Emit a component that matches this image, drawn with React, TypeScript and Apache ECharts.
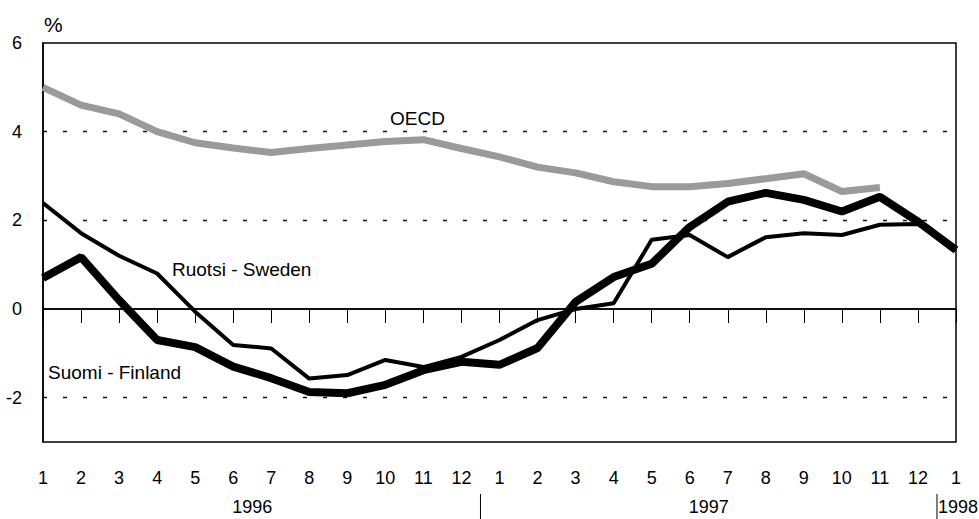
import React, { useEffect, useRef } from "react";
import * as echarts from "echarts";

const years = ["1996", "1997", "1998"];
const months1996 = ["1", "2", "3", "4", "5", "6", "7", "8", "9", "10", "11", "12"];
const months1997 = ["1", "2", "3", "4", "5", "6", "7", "8", "9", "10", "11", "12"];
const months1998 = ["1"];

const categories = [
  ...months1996.map((m) => `1996-${m}`),
  ...months1997.map((m) => `1997-${m}`),
  ...months1998.map((m) => `1998-${m}`),
];

const oecd = [5.0, 4.6, 4.4, 4.0, 3.75, 3.63, 3.53, 3.62, 3.7, 3.78, 3.82, 3.62,
  3.43, 3.2, 3.07, 2.87, 2.76, 2.76, 2.83, 2.94, 3.05, 2.65, 2.74, null, null];
const finland = [0.7, 1.17, 0.2, -0.7, -0.86, -1.3, -1.56, -1.87, -1.9, -1.71, -1.38, -1.19,
  -1.26, -0.88, 0.16, 0.72, 1.02, 1.85, 2.42, 2.62, 2.46, 2.2, 2.53, 1.97, 1.33];
const sweden = [2.39, 1.71, 1.2, 0.8, -0.06, -0.81, -0.89, -1.57, -1.49, -1.15, -1.31, -1.08,
  -0.7, -0.25, 0.0, 0.13, 1.56, 1.67, 1.17, 1.62, 1.71, 1.67, 1.9, 1.92, 1.33];

const dashedLevels = [4, 2, -2];
const FONT = "Liberation Sans, Arial, sans-serif";

export default function App() {
  const ref = useRef<HTMLDivElement>(null);
  useEffect(() => {
    const chart = echarts.init(ref.current!, null, { renderer: "svg" });
    const option: any = {
      animation: false,
      backgroundColor: "#fff",
      grid: {
        left: 43, right: 23, top: 43, bottom: 77,
        show: true, borderColor: "#000", borderWidth: 1.5, backgroundColor: "transparent",
      },
      xAxis: {
        type: "category",
        data: categories,
        boundaryGap: false,
        axisLine: { lineStyle: { color: "#000", width: 1.5 } },
        axisTick: { show: true, length: 14, inside: false, lineStyle: { color: "#000", width: 1 } },
        axisLabel: {
          color: "#000", fontSize: 18, fontFamily: FONT, margin: 27, interval: 0,
          formatter: (v: string) => v.split("-")[1],
        },
        splitLine: { show: false },
      },
      yAxis: {
        type: "value",
        min: -3, max: 6, interval: 1,
        axisLine: { show: true, lineStyle: { color: "#000", width: 1.5 } },
        axisTick: { show: false },
        axisLabel: {
          color: "#000", fontSize: 18, fontFamily: FONT, margin: 21,
          formatter: (v: number) => (v % 2 === 0 ? String(v) : ""),
        },
        splitLine: { show: false },
      },
      series: [
        {
          name: "Ruotsi - Sweden", type: "line", data: sweden, symbol: "none",
          lineStyle: { color: "#000", width: 4 },
          markLine: {
            silent: true, symbol: "none", label: { show: false },
            data: [
              ...dashedLevels.map((y) => ({ yAxis: y, lineStyle: { type: [4, 16], color: "#111", width: 1.3 } })),
              { yAxis: 0, lineStyle: { type: "solid", color: "#000", width: 1.5 } },
            ],
          },
          z: 3,
        },
        {
          name: "Suomi - Finland", type: "line", data: finland, symbol: "none",
          lineStyle: { color: "#000", width: 8 }, z: 4,
        },
        {
          name: "OECD", type: "line", data: oecd, symbol: "none", connectNulls: false,
          lineStyle: { color: "#9a9a9a", width: 7 }, z: 5,
        },
      ],
    };
    chart.setOption(option);

    const px = (i: number) => chart.convertToPixel({ xAxisIndex: 0 }, i) as number;
    const sep1 = (px(11) + px(12)) / 2;
    const sep2 = (px(23) + px(24)) / 2;
    const c1996 = (px(0) + px(11)) / 2;
    const c1997 = (px(12) + px(23)) / 2;
    const yearY = 507;
    const txt = (text: string, x: number, y: number, align = "center", size = 18) => ({
      type: "text", x, y,
      style: { text, fill: "#000", font: `${size}px ${FONT}`, textAlign: align, textVerticalAlign: "middle" },
    });
    chart.setOption({
      graphic: [
        txt("%", 44, 24, "left", 21),
        txt("OECD", 390, 118, "left", 19),
        txt("Ruotsi - Sweden", 172, 269, "left", 19),
        txt("Suomi - Finland", 48, 372, "left", 19),
        txt(years[0], c1996, yearY),
        txt(years[1], c1997, yearY),
        txt(years[2], sep2 + 1, yearY, "left"),
        { type: "line", shape: { x1: sep1, y1: 494, x2: sep1, y2: 519 }, style: { stroke: "#000", lineWidth: 1 } },
        { type: "line", shape: { x1: sep2, y1: 494, x2: sep2, y2: 519 }, style: { stroke: "#000", lineWidth: 1 } },
      ],
    });
    return () => chart.dispose();
  }, []);
  return <div ref={ref} style={{ position: "fixed", left: 0, top: 0, width: 979, height: 519 }} />;
}
